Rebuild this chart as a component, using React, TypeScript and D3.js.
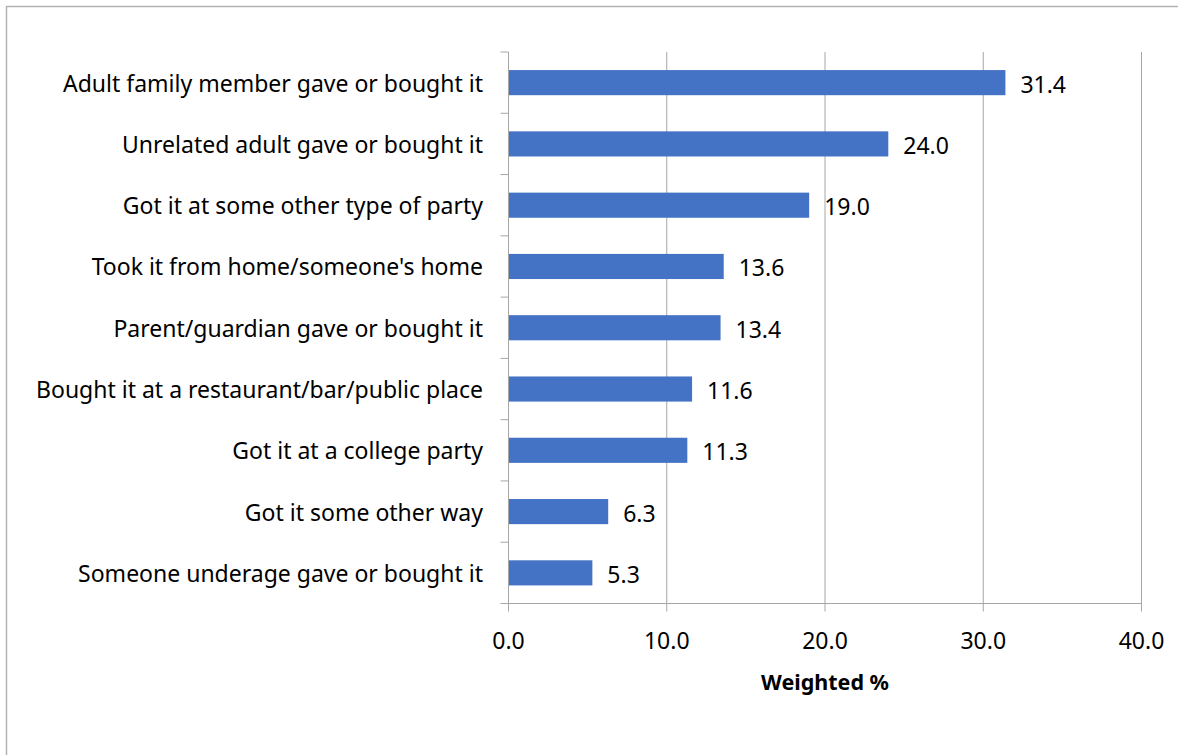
import React from "react";
import * as d3 from "d3";

const categories = [
  "Adult family member gave or bought it",
  "Unrelated adult gave or bought it",
  "Got it at some other type of party",
  "Took it from home/someone's home",
  "Parent/guardian gave or bought it",
  "Bought it at a restaurant/bar/public place",
  "Got it at a college party",
  "Got it some other way",
  "Someone underage gave or bought it",
];
const values = [31.4, 24.0, 19.0, 13.6, 13.4, 11.6, 11.3, 6.3, 5.3];
const xTicks = [0, 10, 20, 30, 40];
const xTitle = "Weighted %";

const W = 1178;
const H = 755;
const FONT = "'Noto Sans', sans-serif";

export default function App() {
  const x = d3.scaleLinear().domain([0, 40]).range([508.5, 1141.5]);
  const y = d3
    .scaleBand<string>()
    .domain(categories)
    .range([52, 603.5])
    .paddingInner(0.59)
    .paddingOuter(0.295);
  const bandStep = y.step();
  const bounds = d3.range(categories.length + 1).map((i) => 52 + i * bandStep);

  return (
    <svg
      width={W}
      height={H}
      style={{ position: "absolute", left: 0, top: 0, background: "#fff" }}
    >
      <rect x={0} y={0} width={W} height={H} fill="#fff" />
      <rect
        x={6.5}
        y={6.5}
        width={W + 20}
        height={H + 20}
        fill="none"
        stroke="#b3b3b3"
        strokeWidth={1.5}
      />
      {xTicks.slice(1).map((t) => (
        <line
          key={"g" + t}
          x1={x(t)}
          x2={x(t)}
          y1={52}
          y2={603.5}
          stroke="#a6a6a6"
          strokeWidth={1}
        />
      ))}
      {categories.map((c, i) => (
        <rect
          key={c}
          x={x(0)}
          y={y(c)}
          width={x(values[i]) - x(0)}
          height={y.bandwidth()}
          fill="#4472C4"
        />
      ))}
      {/* y axis */}
      <line x1={x(0)} x2={x(0)} y1={52} y2={603.5} stroke="#a6a6a6" strokeWidth={1} />
      {bounds.map((b, i) => (
        <line key={"yt" + i} x1={x(0) - 8} x2={x(0)} y1={b} y2={b} stroke="#a6a6a6" strokeWidth={1} />
      ))}
      {/* x axis */}
      <line x1={x(0)} x2={x(40)} y1={603.5} y2={603.5} stroke="#a6a6a6" strokeWidth={1} />
      {xTicks.map((t) => (
        <line key={"xt" + t} x1={x(t)} x2={x(t)} y1={603.5} y2={611.5} stroke="#a6a6a6" strokeWidth={1} />
      ))}
      {xTicks.map((t) => (
        <text
          key={"xl" + t}
          x={x(t)}
          y={640}
          textAnchor="middle"
          dominantBaseline="central"
          fontFamily={FONT}
          fontSize={23}
          fill="#000"
        >
          {t.toFixed(1)}
        </text>
      ))}
      <text
        x={(x(0) + x(40)) / 2}
        y={681}
        textAnchor="middle"
        dominantBaseline="central"
        fontFamily={FONT}
        fontSize={21.5}
        fontWeight="bold"
        fill="#000"
      >
        {xTitle}
      </text>
      {categories.map((c) => (
        <text
          key={"cl" + c}
          x={483}
          y={(y(c) ?? 0) + y.bandwidth() / 2}
          textAnchor="end"
          dominantBaseline="central"
          fontFamily={FONT}
          fontSize={23}
          fill="#000"
        >
          {c}
        </text>
      ))}
      {categories.map((c, i) => (
        <text
          key={"vl" + c}
          x={x(values[i]) + 15}
          y={(y(c) ?? 0) + y.bandwidth() / 2 + 1}
          textAnchor="start"
          dominantBaseline="central"
          fontFamily={FONT}
          fontSize={23}
          fill="#000"
        >
          {values[i].toFixed(1)}
        </text>
      ))}
    </svg>
  );
}
